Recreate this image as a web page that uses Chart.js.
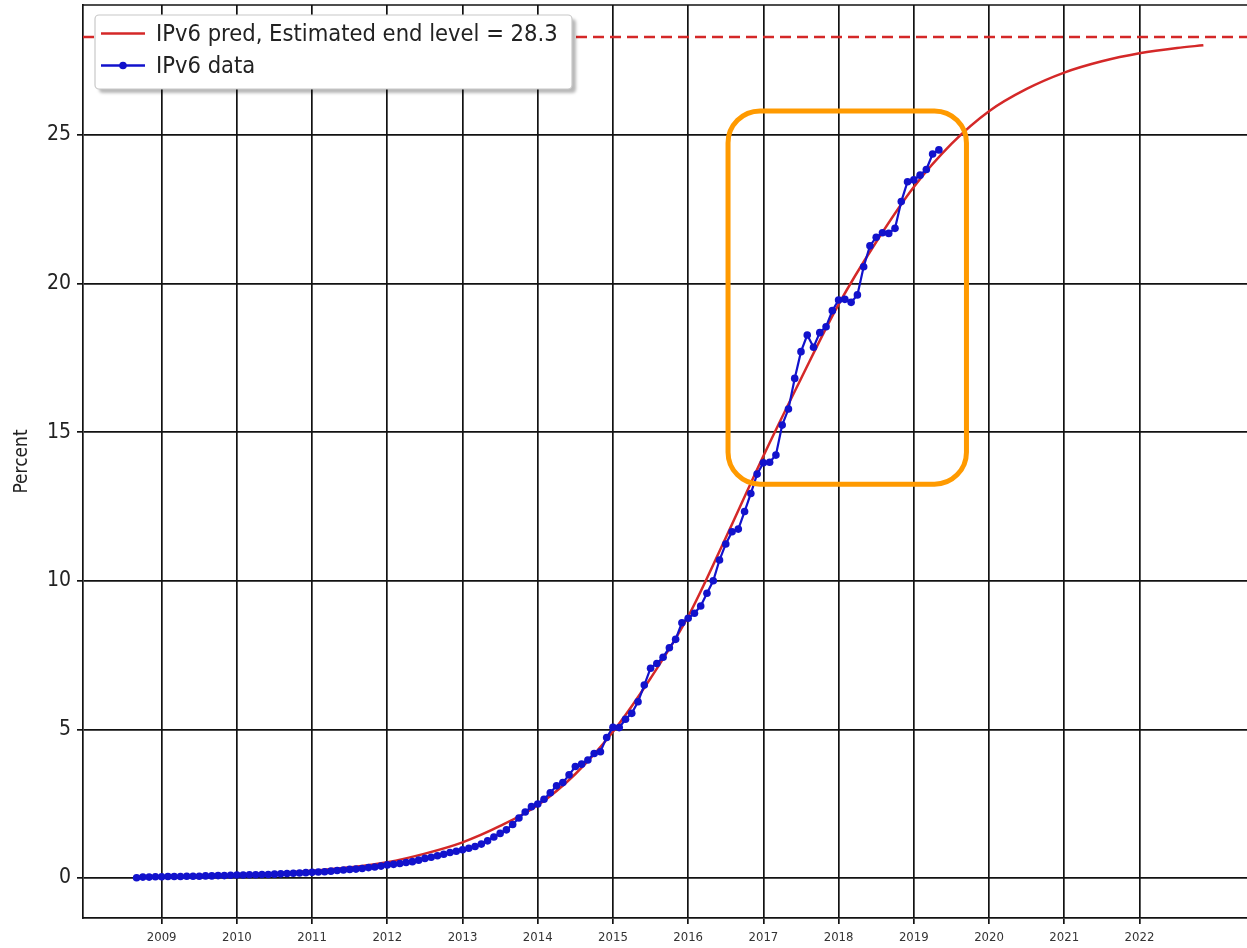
<!DOCTYPE html>
<html><head><meta charset="utf-8">
<script src="https://cdn.jsdelivr.net/npm/chart.js@4.4.1/dist/chart.umd.min.js"></script>
<style>
html,body{margin:0;padding:0;background:#fff;}
#wrap{position:relative;width:1247px;height:948px;}
</style></head><body>
<div id="wrap"><canvas id="c" width="1247" height="948"></canvas></div>
<script>
const FONT = '"DejaVu Sans Condensed", "DejaVu Sans", sans-serif';

// ---- data ----
const dataStartYear = 2008, dataStartMonth = 9;   // first monthly sample: Sep 2008
const ipv6Data = [
  0.01, 0.03, 0.03, 0.04,
  0.04, 0.05, 0.05, 0.05, 0.06, 0.06, 0.06, 0.07, 0.07, 0.08, 0.08, 0.09,
  0.10, 0.10, 0.11, 0.11, 0.12, 0.12, 0.13, 0.14, 0.15, 0.16, 0.17, 0.18,
  0.19, 0.20, 0.21, 0.23, 0.25, 0.27, 0.29, 0.30, 0.32, 0.35, 0.37, 0.40,
  0.44, 0.46, 0.49, 0.52, 0.55, 0.60, 0.66, 0.70, 0.75, 0.80, 0.86, 0.90,
  0.95, 1.00, 1.06, 1.14, 1.25, 1.38, 1.50, 1.62, 1.80, 2.02, 2.22, 2.40,
  2.49, 2.65, 2.87, 3.10, 3.21, 3.47, 3.75, 3.83, 3.97, 4.19, 4.25, 4.73,
  5.07, 5.06, 5.34, 5.54, 5.93, 6.49, 7.06, 7.22, 7.43, 7.75, 8.03, 8.59,
  8.74, 8.91, 9.15, 9.58, 10.00, 10.70, 11.24, 11.65, 11.74, 12.33, 12.94, 13.59,
  13.97, 13.99, 14.23, 15.24, 15.78, 16.81, 17.71, 18.27, 17.86, 18.35, 18.55, 19.09,
  19.45, 19.47, 19.37, 19.62, 20.57, 21.27, 21.56, 21.71, 21.69, 21.86, 22.76, 23.43,
  23.49, 23.65, 23.84, 24.36, 24.50
];
const predYears  = [2008.67, 2009, 2009.5, 2010, 2010.5, 2011, 2011.5, 2012, 2012.5, 2013, 2013.5, 2014, 2014.5, 2015, 2015.5, 2016, 2016.5, 2017, 2017.5, 2018, 2018.5, 2019, 2019.5, 2020, 2020.5, 2021, 2021.5, 2022, 2022.5, 2022.85];
const predValues = [0.04, 0.05, 0.07, 0.10, 0.16, 0.24, 0.36, 0.53, 0.82, 1.20, 1.75, 2.45, 3.50, 4.92, 6.72, 8.80, 11.45, 14.20, 16.80, 19.30, 21.40, 23.25, 24.70, 25.80, 26.55, 27.10, 27.48, 27.75, 27.93, 28.02];
const endLevel = 28.3;
const xTickYears = [2009, 2010, 2011, 2012, 2013, 2014, 2015, 2016, 2017, 2018, 2019, 2020, 2021, 2022];
const yTickValues = [0, 5, 10, 15, 20, 25];
const xRange = [2007.954, 2023.43];
const yRange = [-1.346, 29.375];
const highlightBox = [2016.53, 2019.70, 13.25, 25.81]; // x0, x1, y0, y1
const seriesLabels = ['IPv6 pred, Estimated end level = 28.3', 'IPv6 data'];

// ---- build ----
const dataPoints = ipv6Data.map((v, i) => {
  const m = dataStartMonth - 1 + i;
  return { x: dataStartYear + m / 12, y: v };
});
const predPoints = predYears.map((x, i) => ({ x, y: predValues[i] }));
const endPoints = [{ x: xRange[0], y: endLevel }, { x: xRange[1], y: endLevel }];

const RED = '#d42828', BLUE = '#1212cc', GRID = '#121212';

const framePlugin = {
  id: 'frame',
  beforeDatasetsDraw(chart) {
    const { ctx, chartArea: a } = chart;
    ctx.save();
    ctx.strokeStyle = GRID; ctx.lineWidth = 1.7;
    ctx.beginPath();
    ctx.moveTo(a.left, a.top); ctx.lineTo(a.right, a.top);
    ctx.stroke();
    ctx.restore();
  },
  afterDraw(chart) {
    const { ctx, scales: { x, y } } = chart;
    // highlight rounded box
    const x0 = x.getPixelForValue(highlightBox[0]), x1 = x.getPixelForValue(highlightBox[1]);
    const y0 = y.getPixelForValue(highlightBox[3]), y1 = y.getPixelForValue(highlightBox[2]);
    ctx.save();
    ctx.strokeStyle = '#ff9a00'; ctx.lineWidth = 5;
    ctx.beginPath();
    ctx.roundRect(x0, y0, x1 - x0, y1 - y0, 32);
    ctx.stroke();
    ctx.restore();

    // legend
    const lx = 95, ly = 15, lw = 477, lh = 74;
    ctx.save();
    ctx.fillStyle = 'rgba(0,0,0,0.28)';
    ctx.filter = 'blur(1.5px)';
    ctx.beginPath(); ctx.roundRect(lx + 4, ly + 4, lw, lh, 4); ctx.fill();
    ctx.filter = 'none';
    ctx.fillStyle = '#fff'; ctx.strokeStyle = '#c8c8c8'; ctx.lineWidth = 1.2;
    ctx.beginPath(); ctx.roundRect(lx, ly, lw, lh, 4); ctx.fill(); ctx.stroke();
    const rows = [
      { y: 33.5, color: RED, marker: false, text: chart.data.datasets[1].label },
      { y: 65.5, color: BLUE, marker: true, text: chart.data.datasets[0].label }
    ];
    rows.forEach(r => {
      ctx.strokeStyle = r.color; ctx.lineWidth = 2.5;
      ctx.beginPath(); ctx.moveTo(101, r.y); ctx.lineTo(145, r.y); ctx.stroke();
      if (r.marker) {
        ctx.fillStyle = r.color;
        ctx.beginPath(); ctx.arc(123, r.y, 3.8, 0, Math.PI * 2); ctx.fill();
      }
      ctx.fillStyle = '#222';
      ctx.font = '23.5px ' + FONT;
      ctx.textBaseline = 'middle'; ctx.textAlign = 'left';
      ctx.fillText(r.text, 156, r.y + 1);
    });
    ctx.restore();
  }
};

new Chart(document.getElementById('c'), {
  type: 'scatter',
  data: {
    datasets: [
      { label: seriesLabels[1], data: dataPoints, showLine: true, borderColor: BLUE, backgroundColor: BLUE,
        borderWidth: 2.2, pointRadius: 3.8, pointBorderWidth: 0, pointHoverRadius: 3.8, order: 0 },
      { label: seriesLabels[0], data: predPoints, showLine: true, borderColor: RED, backgroundColor: RED,
        borderWidth: 2.5, pointRadius: 0, cubicInterpolationMode: 'monotone', order: 1 },
      { label: 'end', data: endPoints, showLine: true, borderColor: RED, borderWidth: 2.5,
        borderDash: [11, 6], pointRadius: 0, order: 2 }
    ]
  },
  options: {
    responsive: false, animation: false, devicePixelRatio: 1,
    layout: { autoPadding: false, padding: { top: 5, right: 0, left: 0, bottom: 0 } },
    plugins: { legend: { display: false }, tooltip: { enabled: false } },
    scales: {
      x: {
        type: 'linear', min: xRange[0], max: xRange[1],
        afterBuildTicks: s => { s.ticks = xTickYears.map(v => ({ value: v })); },
        afterFit: s => { s.height = 30; s.paddingLeft = 0; s.paddingRight = 0; s.paddingTop = 0; s.paddingBottom = 0; },
        ticks: { font: { family: FONT, size: 13 }, color: '#333', padding: 6, maxRotation: 0, autoSkip: false,
                 callback: v => String(v) },
        grid: { color: GRID, lineWidth: 1.7, drawTicks: true, tickLength: 6, tickColor: GRID },
        border: { display: true, color: GRID, width: 1.7 }
      },
      y: {
        type: 'linear', min: yRange[0], max: yRange[1],
        afterBuildTicks: s => { s.ticks = yTickValues.map(v => ({ value: v })); },
        afterFit: s => { s.width = 83; s.paddingTop = 0; s.paddingBottom = 0; s.paddingLeft = 0; s.paddingRight = 0; },
        ticks: { font: { family: FONT, size: 21 }, color: '#222', padding: 6, callback: v => String(v) },
        grid: { color: GRID, lineWidth: 1.7, drawTicks: true, tickLength: 6, tickColor: GRID },
        border: { display: true, color: GRID, width: 1.7 },
        title: { display: true, text: 'Percent', font: { family: FONT, size: 19 }, color: '#222',
                 padding: { top: 11, bottom: 0 } }
      }
    }
  },
  plugins: [framePlugin]
});
</script>
</body></html>
